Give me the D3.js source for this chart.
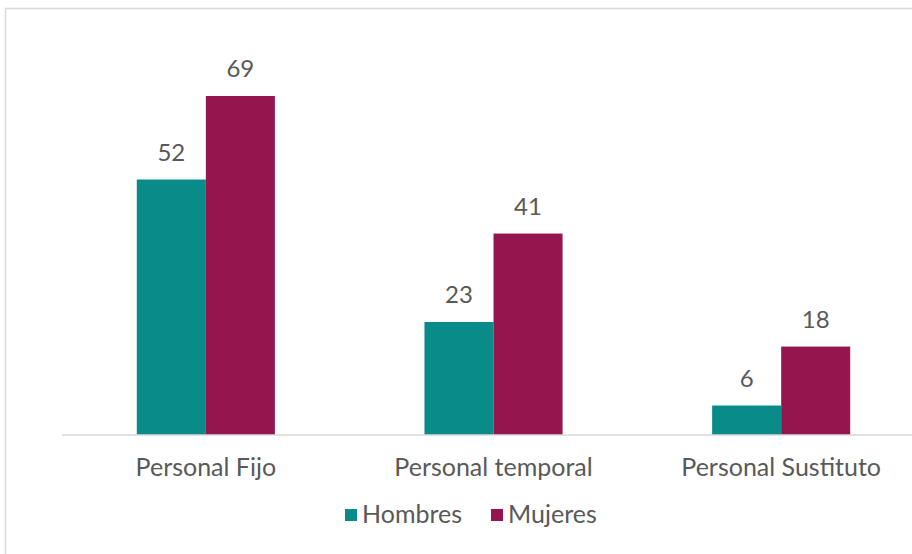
<!DOCTYPE html>
<html>
<head>
<meta charset="utf-8">
<script src="https://cdn.jsdelivr.net/npm/d3@7"></script>
<style>
  html, body { margin: 0; padding: 0; background: #fff; }
  svg { display: block; }
  text { font-family: Lato, "Open Sans", sans-serif; fill: #595959; }
</style>
</head>
<body>
<svg id="chart" width="912" height="554"></svg>
<script>
// Plantilla por tipo de contrato y sexo
const categories = ["Personal Fijo", "Personal temporal", "Personal Sustituto"];
const seriesNames = ["Hombres", "Mujeres"];
const hombres = [52, 23, 6];
const mujeres = [69, 41, 18];
const colors = ["#088b89", "#95154f"];

const rows = categories.map((c, i) => ({ cat: c, values: [hombres[i], mujeres[i]] }));

const svg = d3.select("#chart");
const W = 912, H = 554;

// chart frame
svg.append("rect")
  .attr("x", 5.5).attr("y", 8.5)
  .attr("width", W + 20).attr("height", H + 20)
  .attr("fill", "#fff").attr("stroke", "#d9d9d9").attr("stroke-width", 1.5);

const plot = { left: 62, right: 925, top: 96, bottom: 435 };

const x = d3.scaleBand().domain(categories).range([plot.left, plot.right]).paddingInner(0.52).paddingOuter(0.26);
const xs = d3.scaleBand().domain(seriesNames).range([0, x.bandwidth()]);
const y = d3.scaleLinear().domain([0, 69]).range([plot.bottom, plot.top]);

const groups = svg.append("g").selectAll("g").data(rows).join("g")
  .attr("transform", d => `translate(${x(d.cat)},0)`);

groups.selectAll("rect").data(d => d.values.map((v, i) => ({ v, s: seriesNames[i], i })))
  .join("rect")
  .attr("x", d => xs(d.s))
  .attr("y", d => y(d.v))
  .attr("width", xs.bandwidth())
  .attr("height", d => y(0) - y(d.v))
  .attr("fill", d => colors[d.i]);

groups.selectAll("text.val").data(d => d.values.map((v, i) => ({ v, s: seriesNames[i], i })))
  .join("text")
  .attr("class", "val")
  .attr("x", d => xs(d.s) + xs.bandwidth() / 2)
  .attr("y", d => y(d.v) - 19)
  .attr("text-anchor", "middle")
  .attr("font-size", 24)
  .text(d => d.v);

// category axis
const xAxis = d3.axisBottom(x).tickSize(0).tickPadding(0);
const ax = svg.append("g").attr("transform", `translate(0,${plot.bottom})`).call(xAxis);
ax.select(".domain").attr("stroke", "#d9d9d9").attr("stroke-width", 1.5)
  .attr("d", `M${plot.left},0H${W}`);
ax.selectAll(".tick text")
  .attr("y", 41).attr("dy", null)
  .attr("font-size", 25).attr("fill", "#595959")
  .style("font-family", "Lato, 'Open Sans', sans-serif");

// legend
const legend = svg.append("g").attr("transform", "translate(345,515)");
const items = [{ name: seriesNames[0], x: 0 }, { name: seriesNames[1], x: 146 }];
items.forEach((it, i) => {
  legend.append("rect").attr("x", it.x).attr("y", -6).attr("width", 12).attr("height", 12).attr("fill", colors[i]);
  legend.append("text").attr("x", it.x + 17).attr("y", 8)
    .attr("font-size", 25).text(it.name);
});
</script>
</body>
</html>
